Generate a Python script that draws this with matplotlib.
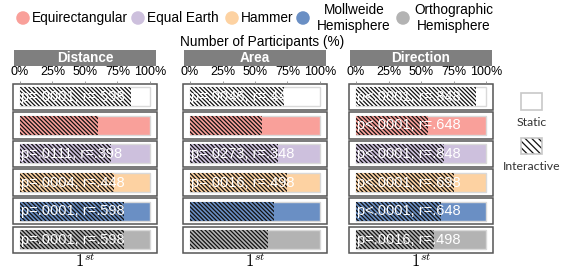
import matplotlib
matplotlib.use('Agg')
from matplotlib import pyplot as plt
from matplotlib.patches import Rectangle
import numpy as np

plt.rcParams['font.family'] = ['Liberation Sans', 'DejaVu Sans']
plt.rcParams['hatch.linewidth'] = 0.9

# data
projections = ['All', 'Equirectangular', 'Equal Earth', 'Hammer',
               'Mollweide\nHemisphere', 'Orthographic\nHemisphere']
colors = ['#ffffff', '#f9a09a', '#cdc0dd', '#fdd2a2', '#6a8fc4', '#b3b3b3']
tasks = ['Distance', 'Area', 'Direction']
distance_pct = [85, 60, 70, 72.5, 80, 80]
area_pct = [72.5, 55, 67.5, 75, 65, 60]
direction_pct = [92.5, 55, 67.5, 75, 65, 60]
distance_txt = ['p=.0001, r=.598', '', 'p=.0111, r=.398', 'p=.0004, r=.448',
                'p=.0001, r=.598', 'p=.0001, r=.598']
area_txt = ['p=.0046, r=.448', '', 'p=.0273, r=.348', 'p=.0016, r=.498', '', '']
direction_txt = ['p<.0001, r=.848', 'p<.0001, r=.648', 'p<.0001, r=.848',
                 'p<.0001, r=.698', 'p<.0001, r=.648', 'p=.0016, r=.498']
ticks = [0, 25, 50, 75, 100]
tick_labels = ['0%', '25%', '50%', '75%', '100%']

W, H = 565, 269
fig = plt.figure(figsize=(W / 100, H / 100), dpi=100)

# overlay in pixel coords for legend / titles
ov = fig.add_axes([0, 0, 1, 1])
ov.set_xlim(0, W)
ov.set_ylim(H, 0)
ov.axis('off')

# projection legend
leg_x = [23, 138, 232, 303, 403]
for i in range(1, 6):
    ov.scatter(leg_x[i - 1], 18, s=95, color=colors[i], edgecolor='none')
    if '\n' in projections[i]:
        ov.text(leg_x[i - 1] + 51, 18, projections[i], ha='center', va='center',
                fontsize=9.8, linespacing=1.15)
    else:
        ov.text(leg_x[i - 1] + 9, 18, projections[i], ha='left', va='center', fontsize=9.8)

ov.text(262, 42, 'Number of Participants (%)', ha='center', va='center', fontsize=9.8)

# static / interactive legend
ov.add_patch(Rectangle((521, 93), 21, 17, facecolor='white', edgecolor='#c8c8c8', lw=1.2))
ov.text(531.5, 122, 'Static', ha='center', va='center', fontsize=8.8, family='Lato', color='#333333')
ov.add_patch(Rectangle((521, 138), 21, 16, facecolor='white', edgecolor='#111111',
                       lw=0, hatch='\\' * 5))
ov.add_patch(Rectangle((521, 138), 21, 16, facecolor='none', edgecolor='#c8c8c8', lw=1.2))
ov.text(531.5, 166, 'Interactive', ha='center', va='center', fontsize=8.8, family='Lato', color='#333333')

pcts = [distance_pct, area_pct, direction_pct]
txts = [distance_txt, area_txt, direction_txt]
bar_x0 = [20, 190, 356]
bw = 130
pitch = 28.6
box_h = 26.5 / pitch
bar_h = 19 / pitch
pad = 7 / bw * 100
top_px = 83.5
bot_px = top_px + 5 * pitch + 26.5
rows = np.arange(6)

for k, task in enumerate(tasks):
    x0 = bar_x0[k]
    # title box
    ov.add_patch(Rectangle((x0 - 6, 50), bw + 12, 16, facecolor='#7f7f7f', edgecolor='none'))
    ov.text(x0 + bw / 2, 58.5, task, ha='center', va='center', color='white',
            fontsize=9.8, fontweight='bold')

    ax = fig.add_axes([(x0 - 7) / W, 1 - bot_px / H, (bw + 14) / W, (bot_px - top_px) / H])
    ax.set_xlim(-pad, 100 + pad)
    ax.set_ylim(5 + box_h / 2, -box_h / 2)
    ax.patch.set_visible(False)
    for s in ax.spines.values():
        s.set_visible(False)
    ax.set_yticks([])
    ax.xaxis.tick_top()
    ax.set_xticks(ticks)
    ax.set_xticklabels(tick_labels, fontsize=9)
    ax.tick_params(axis='x', length=2, width=0.6, color='#888888', pad=2)

    for r in rows:
        ax.add_patch(Rectangle((-pad, r - box_h / 2), 100 + 2 * pad, box_h,
                               facecolor='none', edgecolor='#555555', lw=1.1, clip_on=False))
    ax.barh(rows, [100] * 6, height=bar_h, color=colors, edgecolor='#d9d9d9', lw=1)
    ax.barh(rows, pcts[k], height=bar_h, color=colors, edgecolor='#111111', lw=0,
            hatch='\\' * 8)
    for r in rows:
        if txts[k][r]:
            ax.text(1, r, txts[k][r], ha='left', va='center', color='white', fontsize=10.5)

    ov.text(x0 + bw / 2, 261, r'$1^{st}$', ha='center', va='center', fontsize=12,
            math_fontfamily='cm')

plt.savefig('out.png', dpi=100)
